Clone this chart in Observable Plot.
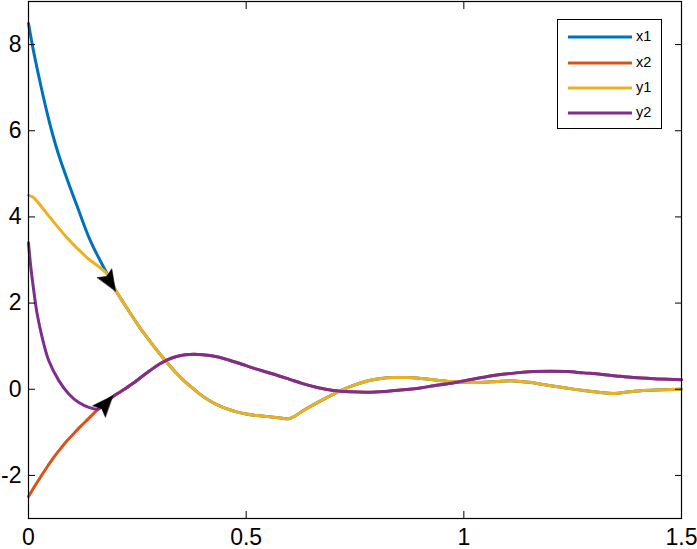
<!DOCTYPE html>
<html>
<head>
<meta charset="utf-8">
<script src="https://cdn.jsdelivr.net/npm/d3@7"></script>
<script src="https://cdn.jsdelivr.net/npm/@observablehq/plot@0.6"></script>
<style>
  html, body { margin: 0; padding: 0; background: #fff; }
  #wrap { position: relative; width: 697px; height: 549px; overflow: hidden; }
  #legend { position: absolute; left: 557px; top: 19px; width: 105px; height: 110px;
    border: 1px solid #000; background: #fff; box-sizing: border-box;
    font-family: "Liberation Sans", Arial, Helvetica, sans-serif; font-size: 14.5px; color: #000; }
  .sw { position: absolute; left: 10px; width: 64px; height: 3px; transform: translateY(-50%); }
  .lab { position: absolute; left: 78px; line-height: 1; transform: translateY(-52%); }
</style>
</head>
<body>
<div id="wrap"><div id="chart"></div><div id="legend"></div></div>
<script>
// ---- data ----
const seriesNames = ["x1", "x2", "y1", "y2"];
const seriesColors = ["#0072BD", "#D95319", "#EDB120", "#7E2F8E"];

// x1 before it merges with y1
const x1HeadT = [0, 0.01, 0.025, 0.04, 0.055, 0.07, 0.09, 0.112, 0.142, 0.181];
const x1HeadV = [8.49, 7.93, 7.2, 6.53, 5.93, 5.42, 4.84, 4.24, 3.45, 2.67];
// y1 before it merges with x1
const y1HeadT = [0, 0.01, 0.02, 0.05, 0.09, 0.135, 0.181];
const y1HeadV = [4.5, 4.46, 4.36, 3.98, 3.5, 3.05, 2.67];
// shared trajectory of x1 and y1
const tail1T = [0.2, 0.22, 0.24, 0.26, 0.28, 0.3, 0.32, 0.34, 0.36, 0.38, 0.4, 0.42, 0.44, 0.46, 0.48, 0.5,
  0.525, 0.55, 0.575, 0.6, 0.635, 0.671, 0.717, 0.75, 0.778, 0.81, 0.839, 0.87, 0.893, 0.93, 0.97, 1.0,
  1.046, 1.075, 1.107, 1.15, 1.2, 1.24, 1.276, 1.31, 1.345, 1.38, 1.413, 1.46, 1.5];
const tail1V = [2.3, 1.98, 1.67, 1.37, 1.1, 0.84, 0.6, 0.37, 0.17, 0.0, -0.16, -0.29, -0.39, -0.47, -0.53, -0.575,
  -0.61, -0.635, -0.66, -0.68, -0.47, -0.27, -0.03, 0.1, 0.19, 0.25, 0.27, 0.27, 0.26, 0.22, 0.18, 0.16,
  0.16, 0.18, 0.2, 0.16, 0.08, 0.02, -0.03, -0.07, -0.1, -0.06, -0.03, -0.01, 0.0];

// x2 before it merges with y2
const x2HeadT = [0, 0.01, 0.0276, 0.045, 0.058, 0.075, 0.089, 0.105, 0.118, 0.135, 0.15, 0.16];
const x2HeadV = [-2.49, -2.32, -2.04, -1.77, -1.58, -1.36, -1.19, -1.02, -0.88, -0.71, -0.56, -0.46];
// y2 before it merges with x2
const y2HeadT = [0, 0.0046, 0.0122, 0.02, 0.0315, 0.0467, 0.0697, 0.0926, 0.1156, 0.1386, 0.16];
const y2HeadV = [3.4, 2.9, 2.28, 1.74, 1.2, 0.66, 0.2, -0.11, -0.31, -0.42, -0.46];
// shared trajectory of x2 and y2
const tail2T = [0.181, 0.2, 0.22, 0.242, 0.26, 0.28, 0.3, 0.32, 0.34, 0.36, 0.38, 0.4, 0.43, 0.46, 0.49, 0.52,
  0.56, 0.6, 0.63, 0.663, 0.7, 0.74, 0.778, 0.82, 0.855, 0.9, 0.931, 0.97, 1.008, 1.046, 1.084, 1.12, 1.161,
  1.2, 1.237, 1.275, 1.314, 1.35, 1.39, 1.45, 1.5];
const tail2V = [-0.27, -0.13, 0.0, 0.15, 0.29, 0.44, 0.58, 0.69, 0.76, 0.8, 0.81, 0.8, 0.76, 0.68, 0.58, 0.48,
  0.36, 0.23, 0.13, 0.04, -0.03, -0.06, -0.07, -0.05, -0.02, 0.03, 0.08, 0.14, 0.21, 0.28, 0.34, 0.38, 0.41,
  0.42, 0.41, 0.38, 0.35, 0.31, 0.27, 0.24, 0.22];

// direction arrows (tail point -> tip point)
const arrowTailT = [0.175, 0.1597];
const arrowTailV = [2.69, -0.54];
const arrowTipT = [0.1999, 0.1937];
const arrowTipV = [2.28, -0.15];

const xTicks = [0, 0.5, 1, 1.5];
const yTicks = [-2, 0, 2, 4, 6, 8];
const xTickLabels = ["0", "0.5", "1", "1.5"];
const yTickLabels = ["-2", "0", "2", "4", "6", "8"];

// ---- build tables ----
const zipTV = (T, V) => T.map((t, i) => ({t, v: V[i]}));
const x1Data = zipTV(x1HeadT.concat(tail1T), x1HeadV.concat(tail1V));
const y1Data = zipTV(y1HeadT.concat(tail1T), y1HeadV.concat(tail1V));
const x2Data = zipTV(x2HeadT.concat(tail2T), x2HeadV.concat(tail2V));
const y2Data = zipTV(y2HeadT.concat(tail2T), y2HeadV.concat(tail2V));
const seriesData = [x1Data, x2Data, y1Data, y2Data];

const font = "'Liberation Sans', Arial, Helvetica, sans-serif";
const base = {
  width: 697, height: 549,
  marginLeft: 28, marginRight: 16, marginTop: 1, marginBottom: 31,
  x: {domain: [0, 1.5]},
  y: {domain: [-3, 9]},
  style: {fontFamily: font, fontSize: "23px", color: "black", background: "white", overflow: "visible"}
};

const lineMarks = seriesData.map((d, i) =>
  Plot.line(d, {x: "t", y: "v", stroke: seriesColors[i], strokeWidth: 3, curve: "catmull-rom"}));

// first pass: obtain the scales to orient the arrowheads in screen space
const probe = Plot.plot({...base, marks: lineMarks});
const sxI = probe.scale("x"), syI = probe.scale("y");
const sx = d3.scaleLinear(sxI.domain, sxI.range);
const sy = d3.scaleLinear(syI.domain, syI.range);
const arrows = arrowTipT.map((t, i) => {
  const dx = sx(t) - sx(arrowTailT[i]);
  const dy = sy(arrowTipV[i]) - sy(arrowTailV[i]);
  return {t, v: arrowTipV[i], angle: Math.atan2(dx, -dy) * 180 / Math.PI};
});

const headShape = {
  draw(ctx, l) {
    const w = 8.5, notch = 4;
    ctx.moveTo(0, -l);
    ctx.lineTo(-w, 0);
    ctx.lineTo(0, -notch);
    ctx.lineTo(w, 0);
    ctx.closePath();
  }
};

const tickFmtX = (d) => xTickLabels[xTicks.indexOf(d)];
const tickFmtY = (d) => yTickLabels[yTicks.indexOf(d)];

const chart = Plot.plot({
  ...base,
  marks: [
    ...lineMarks,
    Plot.vector(arrows, {x: "t", y: "v", rotate: "angle", length: 21, anchor: "end", shape: headShape,
      fill: "black", stroke: "black", strokeWidth: 0.5}),
    Plot.frame({stroke: "black", strokeWidth: 1.2}),
    Plot.axisX(xTicks, {anchor: "bottom", tickSize: -7, text: null, label: null}),
    Plot.axisX(xTicks, {anchor: "top", tickSize: -7, text: null, label: null}),
    Plot.axisY(yTicks, {anchor: "left", tickSize: -7, text: null, label: null}),
    Plot.axisY(yTicks, {anchor: "right", tickSize: -7, text: null, label: null}),
    Plot.axisX(xTicks, {anchor: "bottom", tickSize: 0, tickPadding: 10, label: null, tickFormat: tickFmtX, fontSize: 23}),
    Plot.axisY(yTicks, {anchor: "left", tickSize: 0, tickPadding: 7, label: null, tickFormat: tickFmtY, fontSize: 23})
  ]
});
document.getElementById("chart").appendChild(chart);

// legend
const legend = document.getElementById("legend");
const rowY = [17, 42.5, 68, 93];
seriesNames.forEach((name, i) => {
  const sw = document.createElement("div");
  sw.className = "sw"; sw.style.top = rowY[i] + "px"; sw.style.background = seriesColors[i];
  const lab = document.createElement("div");
  lab.className = "lab"; lab.style.top = rowY[i] + "px"; lab.textContent = name;
  legend.appendChild(sw); legend.appendChild(lab);
});
</script>
</body>
</html>
